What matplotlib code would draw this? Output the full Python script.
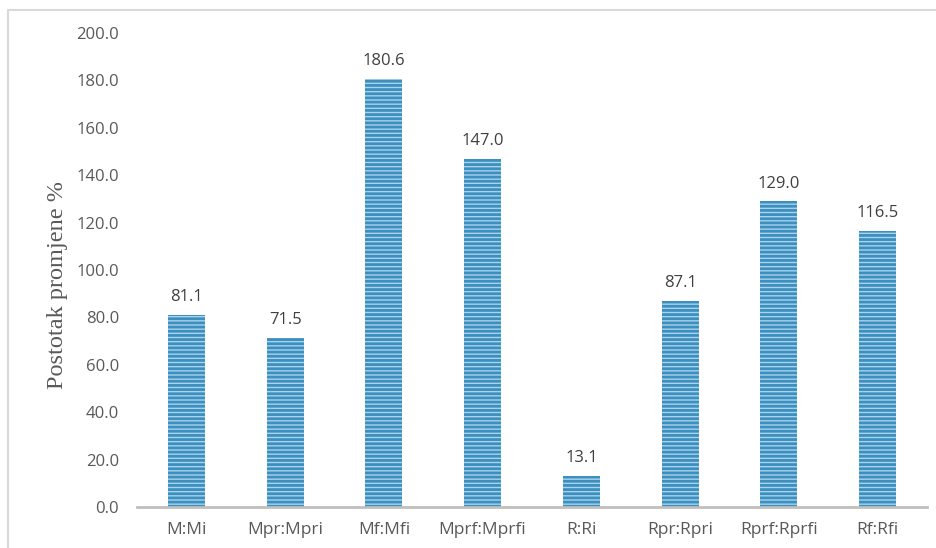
import matplotlib
matplotlib.use("Agg")
import matplotlib.pyplot as plt
from matplotlib.lines import Line2D

categories = ["M:Mi", "Mpr:Mpri", "Mf:Mfi", "Mprf:Mprfi", "R:Ri", "Rpr:Rpri", "Rprf:Rprfi", "Rf:Rfi"]
values = [81.1, 71.5, 180.6, 147.0, 13.1, 87.1, 129.0, 116.5]
yticks = [0, 20, 40, 60, 80, 100, 120, 140, 160, 180, 200]

plt.rcParams['hatch.linewidth'] = 2.0
fig = plt.figure(figsize=(9.36, 5.48), dpi=100)
ax = fig.add_axes([137/936, 1-507/548, (927-137)/936, (507-33)/548])

x = list(range(len(categories)))
bars = ax.bar(x, values, width=0.375, color="#a9d4ec", edgecolor="#3c8fbf",
              hatch="----", linewidth=0)
for xi, v in zip(x, values):
    ax.annotate(f"{v:.1f}", (xi, v), xytext=(0, 7), textcoords="offset points",
                ha="center", va="bottom", fontsize=12, color="#404040",
                family="Open Sans")

ax.set_xlim(-0.5, len(categories) - 0.5)
ax.set_ylim(0, 200)
ax.set_yticks(yticks)
ax.set_yticklabels([f"{t:.1f}" for t in yticks], family="Open Sans", fontsize=12, color="#595959")
ax.set_xticks(x)
ax.set_xticklabels(categories, family="Open Sans", fontsize=12.5, color="#595959")
ax.tick_params(axis="both", length=0)
ax.tick_params(axis="y", pad=13)
ax.tick_params(axis="x", pad=11)
for s in ["top", "right", "left"]:
    ax.spines[s].set_visible(False)
ax.spines["bottom"].set_color("#bfbfbf")
ax.spines["bottom"].set_linewidth(2)

fig.text(57/936, 1-285/548, "Postotak promjene %", rotation=90, ha="center", va="center",
         family="Liberation Serif", fontsize=17.5, color="#595959")

# outer chart border (left and top visible)
fig.add_artist(Line2D([8/936, 8/936, 1.0], [0.0, 1-10/548, 1-10/548],
                      transform=fig.transFigure, color="#d9d9d9", linewidth=1.5))

fig.savefig("out.png", dpi=100, facecolor="white")
